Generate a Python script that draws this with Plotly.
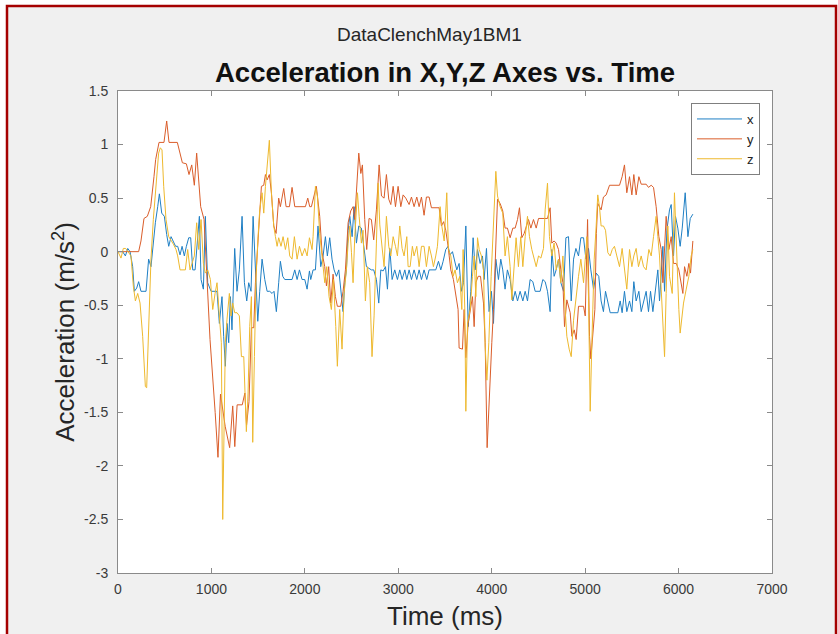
import plotly.graph_objects as go

# ---------------- data (time in ms, acceleration in m/s^2) ----------------
x_t = [0, 50, 79, 104, 129, 157, 175, 200, 221, 246, 300, 328, 353, 378, 400, 425, 443, 468, 496, 521,
       543, 568, 593, 616, 639, 664, 686, 710, 732, 757, 778, 800, 825, 846, 871, 889, 914, 935, 960, 996,
       1060, 1085, 1113, 1131, 1149, 1167, 1185, 1203, 1220, 1249, 1274, 1299, 1328, 1353, 1378, 1399, 1424, 1446, 1471, 1496,
       1517, 1542, 1571, 1596, 1624, 1649, 1670, 1695, 1720, 1738, 1763, 1785, 1863, 1892, 1917, 1942, 1970, 1999, 2024, 2049,
       2063, 2088, 2113, 2141, 2170, 2195, 2220, 2241, 2266, 2291, 2313, 2338, 2363, 2391, 2409, 2427, 2445, 2463, 2481, 2506,
       2527, 2552, 2577, 2605, 2634, 2659, 2712, 2737, 2766, 2791, 2813, 2838, 2863, 2884, 2909, 2934, 2962, 2991, 3016, 3041,
       3070, 3091, 3116, 3141, 3169, 3198, 3223, 3248, 3276, 3305, 3330, 3401, 3430, 3455, 3480, 3508, 3533, 3555, 3580, 3605,
       3626, 3651, 3676, 3698, 3723, 3748, 3776, 3801, 3823, 3848, 3876, 3901, 3919, 3944, 3972, 3997, 4019, 4044, 4072, 4097,
       4118, 4143, 4168, 4197, 4226, 4251, 4276, 4304, 4333, 4358, 4383, 4411, 4440, 4465, 4518, 4547, 4572, 4597, 4625, 4643,
       4668, 4690, 4715, 4740, 4769, 4794, 4822, 4851, 4876, 4901, 4929, 4954, 4983, 5008, 5036, 5061, 5090, 5118, 5146, 5171,
       5196, 5218, 5243, 5268, 5350, 5375, 5396, 5421, 5446, 5475, 5500, 5521, 5546, 5575, 5600, 5625, 5653, 5678, 5700, 5725,
       5750, 5778, 5796, 5814, 5832, 5850, 5875, 5903, 5921, 5946, 5967, 5992, 6017, 6039, 6071, 6100, 6125, 6153]
x_v = [0, 0, -0.04, 0.03, 0, -0.14, -0.37, -0.34, -0.28, -0.37, -0.37, -0.07, -0.14, 0.08, 0.27, 0.42, 0.54, 0.36, 0.33, 0.16,
       0.05, 0.14, 0.1, 0.05, 0.05, -0.03, 0.05, -0.04, 0.05, 0.13, 0.13, -0.17, -0.17, 0.05, 0.33, -0.26, -0.35, 0.33, -0.29, -0.37,
       -0.37, -0.67, -0.42, -0.79, -1.07, -0.67, -0.85, -0.42, -0.73, 0.03, -0.37, -0.17, 0.33, -0.29, -0.46, -0.29, -0.37, 0.33, -0.17, -0.65,
       -0.37, -0.07, -0.26, -0.37, -0.37, -0.39, -0.37, -0.56, -0.29, -0.09, -0.23, -0.26, -0.26, -0.17, -0.26, -0.17, -0.26, -0.26, -0.35, -0.18,
       -0.26, -0.17, -0.17, 0.24, -0.14, -0.04, 0.14, -0.04, 0.13, -0.07, -0.17, -0.23, -0.17, -0.42, -0.56, -0.29, -0.17, 0.2, 0.33, 0.14,
       0.42, 0.08, 0.24, 0.22, 0.05, -0.14, -0.17, -0.17, -0.26, -0.48, -0.17, -0.18, -0.14, -0.35, 0.03, -0.26, -0.17, -0.26, -0.17, -0.26,
       -0.17, -0.26, -0.17, -0.26, -0.17, -0.26, -0.17, -0.26, -0.17, -0.26, -0.17, -0.17, -0.09, -0.17, -0.09, 0.02, 0.05, -0.03, 0, -0.11,
       -0.17, -0.11, -0.37, -0.29, 0.24, -0.7, -0.37, 0.13, -0.17, 0.02, -0.11, -0.04, -0.26, 0.03, -0.56, -0.37, -0.67, -0.07, -0.26, -0.07,
       -0.17, -0.35, -0.17, -0.26, -0.46, -0.37, -0.46, -0.37, -0.46, -0.37, -0.46, -0.26, -0.28, -0.37, -0.37, -0.26, -0.28, -0.37, -0.56, 0.02,
       -0.23, -0.17, -0.07, -0.29, -0.37, 0.13, 0.14, -0.46, -0.07, 0.03, -0.04, 0.13, 0.13, -0.07, 0.03, -0.17, -0.35, -0.2, -0.23, -0.46,
       -0.56, -0.37, -0.46, -0.57, -0.57, -0.46, -0.57, -0.37, -0.56, -0.46, -0.56, -0.28, -0.46, -0.37, -0.56, -0.46, -0.37, -0.56, -0.37, -0.56,
       -0.35, -0.17, -0.46, -0.14, 0.05, -0.37, 0.2, 0.39, 0.44, -0.04, 0.33, 0.22, 0.05, 0.22, 0.55, 0.14, 0.31, 0.35]

y_t = [0, 221, 246, 278, 314, 350, 385, 403, 439, 492, 521, 546, 635, 689, 732, 760, 789, 817, 842, 885,
       921, 957, 985, 1040, 1070, 1097, 1147, 1195, 1228, 1250, 1275, 1330, 1358, 1376, 1402, 1428, 1453, 1471, 1506, 1535,
       1560, 1578, 1596, 1620, 1642, 1667, 1692, 1720, 1738, 1774, 1799, 1835, 1863, 1892, 2006, 2031, 2052, 2070, 2123, 2159,
       2184, 2213, 2231, 2255, 2277, 2302, 2327, 2348, 2384, 2409, 2434, 2463, 2491, 2516, 2534, 2552, 2577, 2599, 2616, 2641,
       2662, 2687, 2712, 2737, 2766, 2795, 2820, 2848, 2873, 2898, 2920, 2945, 2970, 2998, 3027, 3052, 3080, 3116, 3141, 3169,
       3198, 3223, 3248, 3276, 3301, 3330, 3355, 3437, 3462, 3485, 3508, 3533, 3562, 3590, 3615, 3640, 3651, 3687, 3705, 3723,
       3748, 3769, 3794, 3812, 3830, 3855, 3880, 3912, 3930, 3951, 3976, 4001, 4019, 4044, 4062, 4090, 4118, 4143, 4168, 4197,
       4226, 4251, 4276, 4297, 4322, 4347, 4368, 4394, 4419, 4447, 4476, 4501, 4597, 4625, 4643, 4668, 4690, 4715, 4740, 4762,
       4779, 4804, 4840, 4858, 4883, 4904, 4929, 4983, 5001, 5026, 5047, 5061, 5104, 5120, 5135, 5171, 5196, 5225, 5261, 5368,
       5396, 5421, 5446, 5475, 5500, 5521, 5546, 5575, 5600, 5653, 5678, 5707, 5732, 5760, 5789, 5814, 5832, 5850, 5867, 5896,
       5921, 5946, 5975, 6003, 6028, 6046, 6064, 6089, 6110, 6128, 6153]
y_v = [0, 0, 0.1, 0.31, 0.33, 0.42, 0.7, 0.86, 1.02, 1.02, 1.22, 1.02, 1.02, 0.83, 0.82, 0.72, 0.81, 0.62, 0.92, 0.42,
       0.3, -0.29, -0.82, -1.5, -1.92, -1.33, -1.63, -1.83, -1.44, -1.82, -1.43, -1.43, -1.32, -1.62, -1.4, -0.71, -0.71, -0.29, 0.27, 0.61,
       0.62, 0.72, 0.67, 0.72, 0.55, 0.24, 0.17, 0.5, 0.42, 0.59, 0.42, 0.42, 0.6, 0.42, 0.42, 0.5, 0.42, 0.42, 0.61, 0.33,
       -0.01, -0.14, -0.32, -0.14, -0.48, -0.21, -0.42, -0.51, -0.51, -0.37, -0.17, 0.27, 0.38, 0.42, 0.3, 0.61, 0.92, 0.73, 0.81, 0.3,
       0.02, 0.31, 0.3, 0.11, 0.39, 0.81, 0.52, 0.5, 0.72, 0.49, 0.44, 0.61, 0.42, 0.61, 0.42, 0.53, 0.5, 0.44, 0.51, 0.42,
       0.51, 0.42, 0.51, 0.34, 0.51, 0.51, 0.41, 0.41, 0.24, 0.28, 0.2, 0.05, -0.17, -0.26, -0.39, -0.54, -0.9, -0.91, -0.54, -0.99,
       -0.67, -0.57, -0.42, -0.7, -0.29, -0.23, -0.23, -0.48, -0.85, -1.83, -1.26, -0.85, -0.54, 0.08, 0.49, 0.45, 0.38, 0.22, 0.22, 0.13,
       0.22, 0.22, 0.3, 0.41, 0.13, 0.17, 0.22, 0.3, 0.22, 0.3, 0.22, 0.31, 0.31, 0.41, 0.08, 0.1, 0.08, 0.02, -0.17, -0.29,
       -0.7, -0.45, -0.57, -0.79, -0.73, -0.82, -0.51, -0.51, -0.6, 0.3, -0.79, -1.0, -0.54, 0.17, 0.45, 0.39, 0.51, 0.53, 0.62, 0.62,
       0.7, 0.81, 0.55, 0.7, 0.53, 0.72, 0.53, 0.7, 0.63, 0.63, 0.6, 0.62, 0.6, 0.42, 0.14, 0.02, -0.29, -0.01, 0.33, 0.02,
       0.14, -0.11, -0.11, -0.17, -0.29, -0.39, -0.14, -0.23, -0.11, -0.2, 0.1]

z_t = [0, 32, 57, 82, 107, 139, 164, 186, 211, 236, 264, 293, 307, 328, 353, 378, 407, 435, 453, 471,
       489, 514, 543, 568, 593, 621, 639, 664, 721, 746, 771, 792, 817, 842, 864, 889, 914, 935, 960, 989,
       1014, 1039, 1060, 1085, 1106, 1121, 1138, 1149, 1167, 1192, 1210, 1228, 1249, 1274, 1299, 1321, 1346, 1364, 1374, 1392,
       1410, 1428, 1442, 1460, 1478, 1499, 1517, 1542, 1560, 1578, 1596, 1620, 1642, 1667, 1685, 1703, 1720, 1745, 1767, 1792,
       1817, 1838, 1863, 1888, 1917, 1942, 1970, 1999, 2024, 2049, 2077, 2088, 2113, 2134, 2159, 2184, 2213, 2234, 2259, 2284,
       2306, 2331, 2348, 2373, 2398, 2420, 2445, 2463, 2481, 2499, 2516, 2534, 2563, 2581, 2605, 2623, 2648, 2669, 2694, 2719,
       2741, 2766, 2784, 2802, 2827, 2848, 2873, 2898, 2920, 2945, 2970, 2991, 3016, 3041, 3062, 3091, 3105, 3127, 3151, 3169,
       3198, 3223, 3248, 3276, 3301, 3330, 3355, 3376, 3401, 3419, 3448, 3466, 3491, 3519, 3537, 3562, 3587, 3608, 3633, 3658,
       3680, 3694, 3712, 3723, 3741, 3769, 3794, 3812, 3830, 3848, 3866, 3890, 3912, 3930, 3948, 3969, 3994, 4026, 4044, 4062,
       4090, 4118, 4143, 4168, 4197, 4215, 4240, 4261, 4286, 4311, 4333, 4358, 4383, 4404, 4429, 4447, 4476, 4501, 4526, 4554,
       4572, 4597, 4618, 4643, 4668, 4690, 4715, 4740, 4762, 4786, 4804, 4829, 4851, 4876, 4901, 4929, 4954, 4983, 5001, 5019,
       5036, 5054, 5072, 5097, 5118, 5135, 5153, 5171, 5196, 5218, 5243, 5268, 5290, 5314, 5339, 5368, 5396, 5421, 5446, 5475,
       5500, 5521, 5546, 5571, 5600, 5625, 5653, 5682, 5707, 5732, 5760, 5778, 5796, 5814, 5832, 5850, 5867, 5885, 5903, 5932,
       5956, 5981, 6003, 6017, 6039, 6053, 6082, 6110, 6135, 6153]
z_v = [0, -0.06, 0.03, 0.03, 0, -0.04, -0.32, -0.46, -0.39, -0.48, -0.79, -1.26, -1.27, -0.7, -0.07, 0.3, 0.58, 0.92, 0.97, 0.95,
       0.61, 0.3, 0.14, 0.11, 0.07, 0.02, -0.04, -0.17, -0.17, 0.02, -0.17, -0.11, -0.04, 0.27, 0.02, 0.3, -0.11, -0.2, -0.17, -0.26,
       -0.54, -0.39, -0.29, -0.6, -0.85, -2.5, -1.47, -0.85, -0.63, -0.39, -0.6, -0.48, -0.57, -0.57, -0.6, -0.98, -0.98, -1.35, -1.68, -1.32,
       -0.7, -0.42, -1.78, -0.98, -0.23, 0.14, 0.39, 0.55, 0.36, 0.61, 0.8, 1.04, 0.55, 0.24, 0.14, 0.05, 0.13, 0.05, 0.14, 0.02,
       0.13, -0.04, -0.07, 0.14, -0.07, 0.05, -0.04, 0.03, -0.04, 0.13, 0.02, 0.14, 0.61, 0.52, 0.17, -0.04, -0.29, -0.14, -0.42, -0.54,
       -0.26, -0.7, -1.07, -0.54, -0.91, -0.39, -0.17, 0.08, 0.24, -0.01, -0.29, 0.14, 0.55, 0.33, 0.08, 0.2, -0.46, -0.14, -0.29, -0.98,
       -0.6, 0.08, 0.64, 0.25, 0.05, -0.14, 0.33, 0.05, -0.04, 0.14, 0.05, -0.04, 0.24, 0.03, -0.04, 0.14, -0.14, -0.14, 0.05, -0.04,
       0.05, -0.14, 0.05, 0.05, -0.14, 0.05, -0.04, -0.14, -0.04, 0.05, 0.42, 0.24, 0.1, 0.55, 0.02, -0.04, -0.23, -0.17, -0.29, -0.23,
       -0.54, 0.02, -0.54, -1.49, -0.67, -0.54, -0.23, -0.04, -0.42, 0.13, 0.02, -0.04, -0.17, -0.88, -1.2, -0.85, -0.23, 0.39, 0.75, 0.52,
       0.42, 0.36, -0.04, 0.14, -0.14, -0.45, -0.14, 0.13, -0.14, 0.14, -0.14, 0.14, 0.33, 0.14, 0.02, -0.04, -0.14, -0.04, -0.06, 0.03,
       0.39, 0.64, 0.14, -0.04, 0.08, -0.17, -0.07, -0.29, -0.04, -0.54, -0.79, -0.91, -0.98, -0.64, -0.42, -0.23, -0.07, -0.29, -0.07, 0.14,
       -0.42, -1.49, -0.85, -0.07, 0.24, 0.53, 0.42, 0.24, 0.24, 0.2, -0.01, -0.04, 0.02, 0.05, -0.04, -0.14, 0.03, -0.14, -0.35, 0.02,
       -0.14, -0.04, 0.03, -0.14, -0.04, -0.14, -0.17, 0.02, -0.04, 0.14, 0.33, 0.14, -0.04, -0.35, -0.73, -0.98, -0.39, 0.24, -0.23, -0.39,
       0.55, -0.07, -0.54, -0.76, -0.6, -0.48, -0.35, -0.23, -0.04, 0.02]

series_names = ["x", "y", "z"]
series_colors = ["#1f7fc4", "#da5d2a", "#eeb92e"]

x_range = [0, 7000]
y_range = [-3, 1.5]
x_tickvals = [0, 1000, 2000, 3000, 4000, 5000, 6000, 7000]
x_ticktext = ["0", "1000", "2000", "3000", "4000", "5000", "6000", "7000"]
y_tickvals = [-3, -2.5, -2, -1.5, -1, -0.5, 0, 0.5, 1, 1.5]
y_ticktext = ["-3", "-2.5", "-2", "-1.5", "-1", "-0.5", "0", "0.5", "1", "1.5"]

suptitle = "DataClenchMay1BM1"
title = "Acceleration in X,Y,Z Axes vs. Time"
x_label = "Time (ms)"
y_label = "Acceleration (m/s<sup>2</sup>)"

# ---------------- figure ----------------
W, H = 838, 634
L, R, T, B = 118, 66, 91, 61
pw, ph = W - L - R, H - T - B

def px(xp):
    return (xp - L) / pw

def py(yp):
    return (H - B - yp) / ph

fig = go.Figure()
for t, v, name, col in zip([x_t, y_t, z_t], [x_v, y_v, z_v], series_names, series_colors):
    fig.add_trace(go.Scatter(x=t, y=v, mode="lines", name=name,
                             line=dict(color=col, width=1)))

font_family = "Liberation Sans, Arial, Helvetica, sans-serif"
axis_col = "#8a8a8a"

fig.update_layout(
    width=W, height=H,
    margin=dict(l=L, r=R, t=T, b=B, pad=0, autoexpand=False),
    paper_bgcolor="white",
    plot_bgcolor="white",
    font=dict(family=font_family, color="#333333", size=14),
    showlegend=True,
    legend=dict(x=px(760), y=py(103), xanchor="right", yanchor="top",
                bgcolor="white", bordercolor="#7f7f7f", borderwidth=1,
                itemwidth=45,
                font=dict(size=13, color="#222222"), tracegroupgap=0),
    xaxis=dict(range=x_range, tickvals=x_tickvals, ticktext=x_ticktext,
               showgrid=False, zeroline=False, showline=True, linecolor=axis_col, linewidth=1,
               mirror="ticks", ticks="inside", ticklen=5, tickcolor=axis_col,
               ticklabelstandoff=3, automargin=False,
               tickfont=dict(size=14, color="#3a3a3a"),
               title=dict(text=x_label, font=dict(size=26, color="#262626"), standoff=11)),
    yaxis=dict(range=y_range, tickvals=y_tickvals, ticktext=y_ticktext,
               showgrid=False, zeroline=False, showline=True, linecolor=axis_col, linewidth=1,
               mirror="ticks", ticks="inside", ticklen=5, tickcolor=axis_col,
               ticklabelstandoff=6, automargin=False,
               tickfont=dict(size=14, color="#3a3a3a"),
               title=dict(text=y_label, font=dict(size=26, color="#262626"), standoff=1)),
    shapes=[
        dict(type="rect", xref="paper", yref="paper", layer="below",
             x0=px(7), x1=px(836), y0=py(645), y1=py(6),
             fillcolor="#f0f0f0", line=dict(color="#a50000", width=2.5)),
        dict(type="rect", xref="x", yref="y", layer="below",
             x0=x_range[0], x1=x_range[1], y0=y_range[0], y1=y_range[1],
             fillcolor="white", line=dict(width=0)),
    ],
    annotations=[
        dict(text=suptitle, xref="paper", yref="paper", x=px(429), y=py(35),
             xanchor="center", yanchor="middle", showarrow=False,
             font=dict(size=19, color="#262626")),
        dict(text="<b>" + title + "</b>", xref="paper", yref="paper", x=0.5, y=py(73),
             xanchor="center", yanchor="middle", showarrow=False,
             font=dict(size=27.5, color="#111111")),
    ],
)

fig.write_html("out.html")
